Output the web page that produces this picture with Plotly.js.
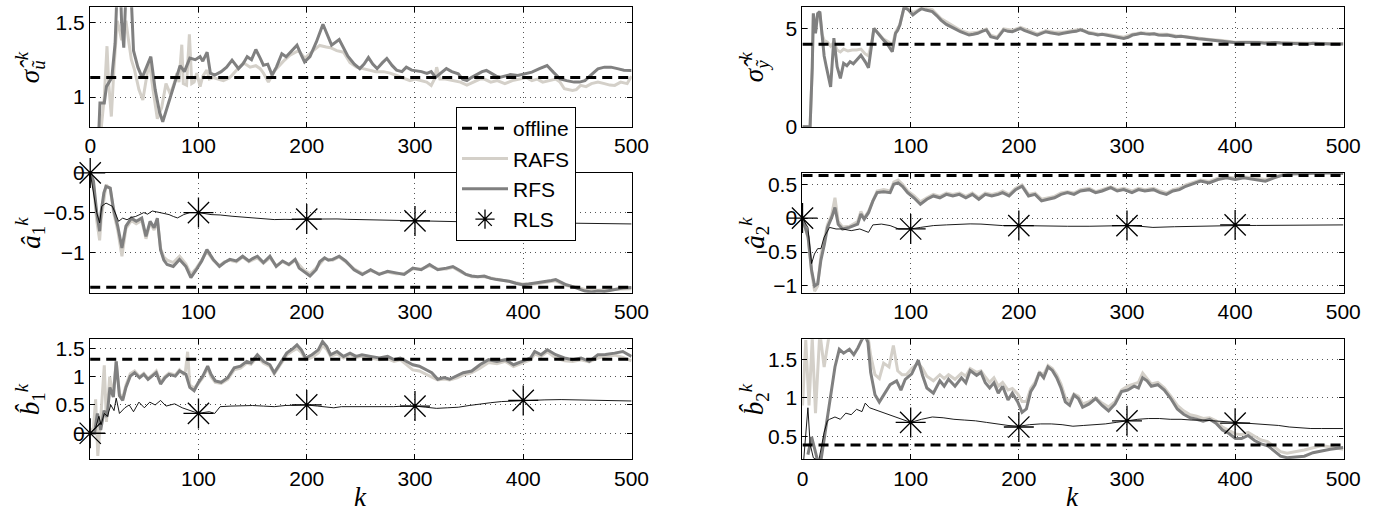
<!DOCTYPE html>
<html><head><meta charset="utf-8">
<script src="https://cdn.plot.ly/plotly-3.0.1.min.js"></script>
<style>html,body{margin:0;padding:0;background:#fff}#chart{width:1378px;height:513px}</style>
</head><body><div id="chart"></div>
<script>
// ---------- data ----------
const kSpan = [0, 500];
const markK = [0, 100, 200, 300, 400];
const xTicksAll = [0, 100, 200, 300, 400, 500];
const xTicksNoZero = [100, 200, 300, 400, 500];

// sigma_u
const suOffline = 1.131;
const suRafsK = [3,8,10,13,15.5,17,19.5,22,25,27,29,31,33,35,38,41,45,48.6,51,54.5,58,62,66,70,74,78,80,82,84.6,86,89,91.6,93.8,96,98.4,101.5,104,107.7,110,113.8,118,123,129,135,141.5,147.7,153,157,160,164.6,170.8,178.5,184.6,192.3,198.4,206,212,218,222,227.7,234,240,246,252,258.5,264,271,277,283,289,295.4,300,305,310.8,315,318,320,323,328,335,342,348,354,360,364,370,376,383,390,396,403,408,413,418,424,430,434,438,445.5,449,453,458,463,469,475,480,484.5,490,496,500];
const suRafs  = [0.5,0.7,0.78,1.0,1.34,1.1,0.87,1.2,1.51,1.45,1.38,1.45,1.51,1.4,1.25,1.18,1.05,0.98,1.1,1.24,1.05,0.855,0.93,1.09,1.02,1.1,1.16,1.1,1.35,1.09,1.08,1.42,1.09,1.1,1.16,1.07,1.14,1.18,1.12,1.13,1.12,1.11,1.13,1.18,1.23,1.2,1.21,1.19,1.16,1.1,1.18,1.24,1.28,1.31,1.26,1.31,1.345,1.335,1.33,1.31,1.3,1.23,1.2,1.19,1.18,1.17,1.17,1.16,1.144,1.13,1.11,1.12,1.11,1.1,1.078,1.12,1.2,1.12,1.12,1.11,1.1,1.08,1.1,1.12,1.12,1.1,1.11,1.09,1.11,1.12,1.13,1.11,1.12,1.1,1.11,1.12,1.1,1.056,1.044,1.05,1.078,1.07,1.09,1.1,1.09,1.08,1.078,1.1,1.09,1.14];
const suRfsK = [1,5,8,9,13,15,20,23,25,27,29,31,33,36,38,40,44,48,52,56,60,64,67,71,75,80,83,87,92,97,101.5,104,108,111,115,121,126,131,137,141,145,149,153,157,160,164,168,172,177,181,186,191,195,198,203,209,215,219,223,230,234,238,244,249,253,257,261,265,270,274,279,283,288,292,297,302,306,311,315,319,324,329,334,340,344,348,352,357,362,366,371,375,379,383,388,395,402,408,415,422,428,434,440,447,452,457,463,469,475,481,487,493,500];
const suRfs  = [0.5,0.7,0.78,0.96,0.96,1.07,1.13,1.36,1.75,1.9,1.5,1.33,1.7,1.85,1.65,1.31,1.2,1.13,1.2,1.27,1.05,0.9,0.835,0.93,1.025,1.13,1.21,1.17,1.26,1.25,1.27,1.24,1.30,1.16,1.147,1.17,1.2,1.247,1.19,1.22,1.27,1.25,1.318,1.26,1.213,1.22,1.147,1.2,1.29,1.27,1.31,1.347,1.28,1.235,1.27,1.37,1.487,1.42,1.347,1.385,1.33,1.273,1.22,1.19,1.22,1.264,1.22,1.19,1.23,1.258,1.21,1.18,1.17,1.2,1.18,1.176,1.17,1.158,1.17,1.131,1.16,1.19,1.17,1.155,1.12,1.11,1.13,1.15,1.17,1.178,1.155,1.14,1.133,1.14,1.15,1.144,1.155,1.167,1.19,1.211,1.165,1.122,1.11,1.1,1.1,1.11,1.15,1.189,1.2,1.2,1.19,1.18,1.178];

// sigma_y
const syOffline = 4.19;
const syRafsK = [0,7,9,10,12,14,16,18,20,23,26,29,32,35,38,42,46,50,54,58,61,64,66,70,75,80,83,86,90,94,98,102,106,110,114,120,128,138,146,154,162,170,174,180,186,194,201.5,209,217,225,233,241,249,257,265,273,281,289,297,305,313,321,329,337,345,355,366,377,388,400,410,422,432,442,456,467,478,488,500];
const syRafs  = [0,0,3,5.7,4.8,5.7,5.8,4.7,4.4,4.3,4.1,4.3,3.9,3.8,3.95,3.85,3.9,3.9,3.95,3.7,3.6,4.3,5.0,4.75,4.45,4.3,4.1,4.8,5.2,6.05,6.0,5.8,5.9,6.05,6.0,5.95,5.5,5.15,4.9,4.75,4.8,4.97,4.65,4.55,4.97,4.9,5.05,4.9,4.72,4.88,4.8,4.8,4.88,4.95,4.8,4.72,4.7,4.63,4.55,4.7,4.78,4.74,4.7,4.7,4.62,4.58,4.5,4.44,4.38,4.3,4.31,4.3,4.29,4.28,4.26,4.23,4.24,4.22,4.22];
const syRfsK = [0,7,9,10,12,14,16,18,20,22,24,26,29,32,35,38,41,44,47,50,54,58,61,64,66,69,72,75,78,81,83,86,88,90,92,94,98,102,106,110,114,120,124,128,133,138,142,146,150,154,158,162,166,170,174,180,186,190,194,198,201.5,205,209,213,217,221,225,229,233,237,241,245,249,253,257,261,265,269,273,277,281,285,289,293,297,301,305,309,313,317,321,325,329,333,337,341,345,350,355,361,366,371,377,383,388,392.5,396,400.5,405,410,416,422,427,432,437,442,448,456,462,467,472,478,484,488,494,500];
const syRfs  = [0,0,3,5.76,4.75,5.76,5.85,4.58,3.6,3.05,2.6,2.03,4.5,3.05,2.46,3.22,3.1,3.3,3.2,3.39,3.64,3.3,3.0,4.2,5.0,4.8,4.58,4.4,4.24,4.0,3.81,4.75,4.9,5.17,5.6,6.1,5.93,5.68,5.85,6.0,5.93,5.85,5.65,5.42,5.2,5.08,4.95,4.83,4.75,4.66,4.7,4.75,4.85,4.92,4.58,4.49,4.92,4.85,4.83,4.9,5.0,4.9,4.83,4.75,4.66,4.75,4.83,4.78,4.75,4.7,4.75,4.8,4.83,4.85,4.92,4.85,4.75,4.72,4.66,4.7,4.66,4.62,4.58,4.55,4.49,4.55,4.66,4.7,4.75,4.72,4.7,4.72,4.66,4.65,4.66,4.62,4.58,4.6,4.55,4.49,4.47,4.45,4.41,4.4,4.35,4.32,4.3,4.27,4.28,4.29,4.27,4.28,4.25,4.27,4.28,4.26,4.25,4.24,4.22,4.21,4.24,4.22,4.2,4.2,4.21,4.2];

// a1
const a1Offline = -1.44;
const a1RafsK = [0,3,6,8.7,10,12.6,14.6,18.5,21.6,25.4,29.3,33,38,42.5,47.6,51.5,55.3,59,62,65,68,71,76.7,82.5,88.4,93,98,103,107.8,113.6,119.4,124,129,135,140.8,146.6,154.4,160,166,171.8,177.7,183.5,189.3,197,203,208.7,216.5,224,230,236,243.7,251.4,259,267,274.7,282.5,290,298,305.8,313.5,321,329,335,342.7,352.4,364,375.7,387,399,410.6,422,430,439.8,449.5,457,469,480.6,492,500];
const a1Rafs  = [0,-0.15,-0.6,-0.85,-0.6,-0.3,-0.15,-0.2,-0.5,-0.72,-1.05,-0.7,-0.6,-0.64,-0.6,-0.83,-0.63,-0.72,-0.6,-0.95,-1.06,-1.1,-1.13,-1.05,-1.15,-1.28,-1.2,-1.1,-0.99,-1.1,-1.17,-1.12,-1.1,-1.12,-1.06,-1.12,-1.07,-1.14,-1.07,-1.17,-1.12,-1.16,-1.1,-1.22,-1.27,-1.2,-1.08,-1.1,-1.06,-1.12,-1.21,-1.27,-1.23,-1.27,-1.25,-1.27,-1.27,-1.21,-1.21,-1.17,-1.21,-1.21,-1.19,-1.25,-1.31,-1.31,-1.34,-1.37,-1.4,-1.4,-1.38,-1.36,-1.42,-1.44,-1.47,-1.48,-1.47,-1.46,-1.46];
const a1RfsK = [0,3,6,8.7,10,12.6,14.6,18.5,21.6,25.4,29.3,33,38,42.5,47.6,51.5,55.3,59,62,65,68,71,76.7,82.5,88.4,93,98,103,107.8,113.6,119.4,124,129,135,140.8,146.6,150,154.4,160,166,171.8,177.7,183.5,189.3,193,197,203,208.7,212,216.5,220,224,230,236,243.7,251.4,259,267,274.7,282.5,290,298,305.8,313.5,321,329,335,342.7,347,352.4,358,364,370,375.7,381,387,393,399,405,410.6,416,422,426,430,435,439.8,445,449.5,453,457,463,469,475,480.6,486,492,500];
const a1Rfs  = [0,-0.1,-0.5,-0.735,-0.5,-0.25,-0.17,-0.19,-0.46,-0.67,-0.945,-0.67,-0.57,-0.61,-0.57,-0.8,-0.61,-0.69,-0.57,-0.97,-1.1,-1.155,-1.18,-1.09,-1.18,-1.32,-1.22,-1.11,-0.966,-1.09,-1.18,-1.13,-1.09,-1.11,-1.05,-1.11,-1.08,-1.05,-1.13,-1.05,-1.18,-1.11,-1.155,-1.09,-1.2,-1.24,-1.30,-1.22,-1.12,-1.07,-1.1,-1.09,-1.05,-1.11,-1.22,-1.28,-1.22,-1.28,-1.24,-1.26,-1.28,-1.2,-1.22,-1.155,-1.22,-1.2,-1.18,-1.24,-1.28,-1.30,-1.31,-1.30,-1.33,-1.345,-1.35,-1.365,-1.39,-1.41,-1.40,-1.39,-1.38,-1.365,-1.355,-1.345,-1.38,-1.41,-1.43,-1.45,-1.47,-1.49,-1.5,-1.49,-1.495,-1.48,-1.47,-1.45,-1.445];
const a1RlsK = [0,3,6,8.7,10.6,14.6,17,20.4,23,26.2,30,34,38,41.7,45,49.5,53,57.3,61,65,69,72.8,77,80.6,83,86.4,92,100,111.6,120,131,140,150.5,160,170,180,189,200,208.7,220,228,238,247.6,257,267,276,286,296,305.8,315,325,340,360,380,400,420,440,460,480,500];
const a1Rls  = [0,-0.25,-0.5,-0.63,-0.42,-0.38,-0.4,-0.42,-0.5,-0.61,-0.57,-0.59,-0.56,-0.55,-0.53,-0.5,-0.52,-0.48,-0.49,-0.5,-0.51,-0.525,-0.55,-0.567,-0.55,-0.525,-0.5,-0.5,-0.525,-0.53,-0.546,-0.555,-0.567,-0.575,-0.588,-0.585,-0.588,-0.582,-0.58,-0.58,-0.58,-0.585,-0.588,-0.592,-0.597,-0.6,-0.605,-0.605,-0.605,-0.607,-0.61,-0.615,-0.62,-0.622,-0.625,-0.63,-0.632,-0.636,-0.64,-0.643];
const a1Mark = [0,-0.5,-0.582,-0.605,-0.625];

// a2
const a2Offline = 0.63;
const a2K = [0,5.2,8.4,11.2,14,17,20.3,23,27,30,33,37,43.4,47.4,51,54,57,61,65,69,75,81,84.4,88.4,92.4,97.2,103,109,115,121,127,133,139,145,151,157,163,169,175,181,185,191,197,203,209,215,221,227,233,239,245,251,257,265,271,277,285,291,297,304.6,310.6,316.5,324.5,330.5,336.5,342.5,348.5,354.4,360.4,368,376,384,392,400,408,420,428,436,444,452,464,476,488,500];
const a2Rafs = [0,-0.3,-0.8,-1.08,-1.0,-0.55,-0.3,-0.1,0.05,0.3,-0.05,-0.13,-0.12,-0.08,-0.05,0.1,0.0,0.1,0.26,0.4,0.42,0.4,0.53,0.56,0.5,0.4,0.33,0.24,0.3,0.35,0.32,0.37,0.35,0.37,0.32,0.37,0.3,0.37,0.35,0.37,0.4,0.35,0.44,0.49,0.35,0.37,0.28,0.3,0.32,0.37,0.39,0.37,0.42,0.44,0.39,0.42,0.46,0.42,0.44,0.4,0.44,0.42,0.44,0.4,0.37,0.42,0.44,0.49,0.52,0.56,0.54,0.59,0.61,0.59,0.61,0.59,0.57,0.61,0.645,0.66,0.67,0.68,0.68,0.67];
const a2Rfs  = [0,-0.28,-0.77,-1.0,-0.97,-0.62,-0.38,-0.14,0.01,0.156,-0.09,-0.16,-0.137,-0.11,-0.09,0.06,-0.015,0.08,0.25,0.376,0.39,0.376,0.5,0.52,0.47,0.376,0.30,0.205,0.278,0.327,0.30,0.35,0.327,0.35,0.30,0.35,0.278,0.35,0.327,0.35,0.376,0.327,0.42,0.47,0.327,0.35,0.254,0.278,0.30,0.35,0.376,0.35,0.4,0.42,0.376,0.4,0.45,0.4,0.42,0.376,0.42,0.4,0.42,0.376,0.35,0.4,0.42,0.47,0.5,0.546,0.52,0.57,0.595,0.57,0.595,0.57,0.546,0.595,0.634,0.65,0.66,0.67,0.67,0.66];
const a2RlsK = [0,5,8.4,11,14,17,20,25,31,37,45,53,61,65,73,81,89,100,109,121,133,145,155,165,175,185,200,212,225,245,265,285,300,312,324,344,360,380,400,420,440,460,480,500];
const a2Rls  = [0,-0.14,-0.67,-0.53,-0.45,-0.45,-0.28,-0.137,-0.16,-0.16,-0.185,-0.16,-0.21,-0.1,-0.088,-0.11,-0.16,-0.16,-0.137,-0.11,-0.1,-0.088,-0.085,-0.088,-0.1,-0.11,-0.11,-0.115,-0.12,-0.12,-0.12,-0.115,-0.11,-0.12,-0.137,-0.127,-0.12,-0.115,-0.11,-0.108,-0.106,-0.105,-0.102,-0.1];
const a2Mark = [0,-0.16,-0.11,-0.11,-0.1];

// b1
const b1Offline = 1.306;
const b1RafsK = [0,3,5,7,10,13,15,18,21,24,27,30,33,37,41,45.6,49.5,53.4,57.3,61,65,69,72.8,78.6,82.5,86,88,90,92,96,100,104,108.5,111.6,115.5,121,127,133,138.8,144.6,148.5,154.4,160,166,170,175.7,181.5,187.4,191,195,199,204.8,210.7,214.6,218.5,222,228,234,240,245.6,251,259,267,274.7,280.6,286.4,292,298,304,309.7,315.5,321,327,332,338.8,344.6,352.4,360,368,375.7,383.5,391,399,406.8,410.6,416.5,422.3,430,438,445.6,453.4,461,469,476,484.4,492,500];
const b1Rafs  = [0,0.1,0.6,-0.4,0.35,1.2,0.2,1.0,0.65,1.27,0.7,0.62,0.85,1.05,1.1,1.0,1.06,0.97,1.03,1.1,0.9,1.0,1.06,1.03,1.12,1.05,1.1,1.44,0.85,0.8,0.88,0.98,1.15,1.0,0.9,0.88,0.95,1.12,1.15,1.24,1.22,1.35,1.24,1.18,1.05,1.22,1.38,1.46,1.5,1.43,1.3,1.34,1.42,1.55,1.48,1.36,1.4,1.33,1.39,1.34,1.36,1.33,1.3,1.32,1.27,1.3,1.22,1.12,1.1,1.05,1.0,0.94,0.96,0.94,0.98,1.03,1.07,1.15,1.25,1.23,1.27,1.18,1.24,1.3,1.4,1.36,1.44,1.33,1.28,1.27,1.3,1.26,1.33,1.36,1.38,1.34,1.28];
const b1RfsK = [0,4,6.6,9.7,12.8,15.5,18.2,21.4,24,27,30,33,37,41,45.6,49.5,53.4,57.3,61,65,69,72.8,78.6,82.5,88.4,92,96,100,104,108.5,111.6,115.5,121,127,133,138.8,144.6,148.5,154.4,160,166,170,175.7,181.5,187.4,191,195,199,204.8,210.7,214.6,218.5,222,228,234,240,245.6,251,259,267,274.7,280.6,286.4,292,298,304,309.7,315.5,321,327,332,338.8,344.6,352.4,360,368,375.7,383.5,391,399,406.8,410.6,416.5,422.3,430,438,445.6,453.4,461,469,476,484.4,492,500];
const b1Rfs  = [0,0,0.35,0.06,0.4,0.29,0.81,0.64,1.27,0.665,0.58,0.81,1.01,1.07,0.98,1.04,0.95,1.01,1.07,0.87,0.98,1.04,1.01,1.1,1.04,0.81,0.75,0.9,1.01,1.185,1.04,0.925,0.9,0.98,1.156,1.185,1.27,1.243,1.387,1.27,1.21,1.07,1.243,1.416,1.5,1.56,1.474,1.33,1.387,1.474,1.62,1.53,1.387,1.445,1.358,1.416,1.358,1.387,1.358,1.33,1.358,1.3,1.33,1.27,1.21,1.185,1.127,1.07,0.954,0.983,0.954,1.01,1.07,1.1,1.21,1.3,1.27,1.3,1.21,1.27,1.33,1.445,1.387,1.474,1.387,1.33,1.3,1.33,1.27,1.387,1.39,1.416,1.445,1.358];
const b1RlsK = [0,3,5,8,10,13,16,19,22,24,27,32,36,40,45,50,55,60,65,70,78,85,92,100,106,110,115,120,130,140,150,160,170,180,190,200,210,218,225,232,240,250,260,270,280,290,300,310,320,330,340,350,360,370,380,390,400,410,420,435,450,465,480,500];
const b1Rls  = [0,0.05,0.1,0.3,0.15,0.35,0.3,0.5,0.4,0.62,0.35,0.45,0.5,0.38,0.55,0.45,0.55,0.5,0.58,0.48,0.52,0.45,0.4,0.35,0.37,0.38,0.35,0.47,0.48,0.49,0.49,0.48,0.47,0.49,0.5,0.5,0.48,0.46,0.45,0.47,0.47,0.47,0.47,0.46,0.47,0.48,0.48,0.46,0.44,0.45,0.46,0.49,0.52,0.54,0.56,0.57,0.58,0.59,0.59,0.595,0.59,0.58,0.57,0.57];
const b1Mark = [0,0.35,0.5,0.48,0.58];

// b2
const b2Offline = 0.385;
const b2RafsK = [0,3,6,9,12,16,20,25,30,40,50,55,60,63,67,71,75,80,84,88,92,96,101,107,111,115,121,127,131,135,141,147,151,155,161,165,169,173,177,181,185,190,194,199,203,207,211,215,219,223,227,231,235,239,243,247,251,255,259,265,271,277,283,289,295,300.6,306.6,310.6,314.5,318.5,322.5,328.5,334.5,340.5,346.5,352.4,358.4,364.4,370.4,376.4,382.3,388.3,394.3,400.3,406,412,418,424,430,436,442,448,456,464,472,480,488,500];
const b2Rafs  = [0.9,1.75,0.9,1.78,0.8,1.85,1.4,1.85,1.9,1.9,1.85,1.9,1.85,1.55,1.3,1.25,1.45,1.4,1.68,1.35,1.3,1.3,1.38,1.45,1.38,1.28,1.22,1.3,1.25,1.3,1.24,1.32,1.28,1.38,1.33,1.35,1.27,1.2,1.26,1.15,1.2,1.1,1.12,1.05,0.95,0.95,1.12,1.2,1.33,1.3,1.42,1.38,1.3,1.18,1.0,0.95,1.05,1.02,0.92,0.95,1.0,0.93,0.88,0.95,1.1,1.15,1.18,1.2,1.32,1.25,1.18,1.2,1.13,1.02,0.9,0.83,0.78,0.76,0.73,0.74,0.7,0.62,0.58,0.53,0.52,0.55,0.5,0.45,0.43,0.37,0.3,0.28,0.3,0.32,0.35,0.38,0.36,0.33];
const b2RfsK = [5,8.4,11,14,17,21,25,30,34,38,43.4,47.4,51.3,55,58,60.5,63,67,71,75,81,87,91,95,101,107,111,115,121,127,131,135,141,147,151,155,161,165,169,173,177,181,185,190,194,199,203,207,211,215,219,223,227,231,235,239,243,247,251,255,259,265,271,277,283,289,295,300.6,306.6,310.6,314.5,318.5,322.5,328.5,334.5,340.5,346.5,352.4,358.4,364.4,370.4,376.4,382.3,388.3,394.3,400.3,406,412,418,424,430,436,442,448,456,464,472,480,488,500];
const b2Rfs  = [0.26,0.49,0.35,0.18,0.18,0.54,0.945,1.4,1.63,1.58,1.63,1.56,1.65,1.76,1.8,1.72,1.33,1.04,0.945,1.04,1.17,1.22,1.1,1.24,1.31,1.49,1.29,1.127,1.06,1.22,1.15,1.24,1.15,1.26,1.195,1.355,1.29,1.33,1.195,1.127,1.195,1.06,1.15,0.97,1.06,0.945,0.81,0.855,1.08,1.17,1.33,1.26,1.4,1.355,1.26,1.127,0.945,0.9,1.036,0.99,0.877,0.92,0.99,0.9,0.83,0.92,1.08,1.1,1.15,1.127,1.26,1.22,1.15,1.17,1.1,0.99,0.855,0.786,0.74,0.72,0.695,0.72,0.67,0.58,0.536,0.47,0.47,0.51,0.445,0.4,0.377,0.31,0.24,0.22,0.227,0.24,0.286,0.31,0.33,0.354];
const b2RlsK = [0,3,5,7,10,15,20,23,25,30,35,40,45,50,55,58,62,66,70,75,80,85,90,95,100,110,120,130,140,150,160,170,180,190,200,210,220,230,240,250,260,270,280,290,300,310,320,330,340,350,360,370,380,390,400,410,420,430,440,450,460,470,480,490,500];
const b2Rls  = [0,0.5,0.87,0.4,0.22,0.18,0.55,0.7,0.72,0.75,0.72,0.8,0.78,0.85,0.82,0.93,0.87,0.85,0.83,0.8,0.78,0.75,0.72,0.7,0.68,0.72,0.75,0.74,0.72,0.71,0.7,0.68,0.66,0.64,0.63,0.65,0.66,0.66,0.65,0.63,0.64,0.65,0.66,0.68,0.7,0.72,0.73,0.73,0.72,0.72,0.71,0.71,0.7,0.69,0.68,0.67,0.66,0.65,0.64,0.62,0.61,0.6,0.6,0.6,0.6];
const b2Mark = [0,0.68,0.62,0.7,0.67];

// ---------- styles ----------
const C_RAFS = '#d4d0c9', C_RFS = '#808080';
const tickFont = {family: 'Liberation Sans, Arial, sans-serif', size: 21, color: '#000'};
const mathFont = {family: 'Liberation Serif, DejaVu Serif, serif', size: 27, color: '#000'};

const traces = [];
function panel(n, p, leg) {
  const xa = 'x' + (n === 1 ? '' : n), ya = 'y' + (n === 1 ? '' : n);
  traces.push({x: p.rafsK, y: p.rafs, xaxis: xa, yaxis: ya, mode: 'lines', name: 'RAFS',
    line: {color: C_RAFS, width: 3}, showlegend: !!leg.main, legendrank: 2, hoverinfo: 'skip'});
  traces.push({x: p.rfsK, y: p.rfs, xaxis: xa, yaxis: ya, mode: 'lines', name: 'RFS',
    line: {color: C_RFS, width: 3}, showlegend: !!leg.main, legendrank: 3, hoverinfo: 'skip'});
  traces.push({x: kSpan, y: [p.off, p.off], xaxis: xa, yaxis: ya, mode: 'lines', name: 'offline',
    line: {color: '#000', width: 3, dash: '10px,6px'}, showlegend: !!leg.main, legendrank: 1, hoverinfo: 'skip'});
  if (p.rlsK) {
    traces.push({x: p.rlsK, y: p.rls, xaxis: xa, yaxis: ya, mode: 'lines', name: 'RLS',
      line: {color: '#000', width: 0.9}, showlegend: false, hoverinfo: 'skip'});
    traces.push({x: markK, y: p.mark, xaxis: xa, yaxis: ya, mode: 'markers', name: 'RLS',
      marker: {symbol: 'asterisk-open', size: 25, color: '#000', line: {color: '#000', width: 1.3}},
      cliponaxis: false, showlegend: !!leg.rls, legendrank: 4, hoverinfo: 'skip'});
  }
}
panel(1, {rafsK: suRafsK, rafs: suRafs, rfsK: suRfsK, rfs: suRfs, off: suOffline}, {main: true});
panel(2, {rafsK: syRafsK, rafs: syRafs, rfsK: syRfsK, rfs: syRfs, off: syOffline}, {});
panel(3, {rafsK: a1RafsK, rafs: a1Rafs, rfsK: a1RfsK, rfs: a1Rfs, off: a1Offline, rlsK: a1RlsK, rls: a1Rls, mark: a1Mark}, {rls: true});
panel(4, {rafsK: a2K, rafs: a2Rafs, rfsK: a2K, rfs: a2Rfs, off: a2Offline, rlsK: a2RlsK, rls: a2Rls, mark: a2Mark}, {});
panel(5, {rafsK: b1RafsK, rafs: b1Rafs, rfsK: b1RfsK, rfs: b1Rfs, off: b1Offline, rlsK: b1RlsK, rls: b1Rls, mark: b1Mark}, {});
panel(6, {rafsK: b2RafsK, rafs: b2Rafs, rfsK: b2RfsK, rfs: b2Rfs, off: b2Offline, rlsK: b2RlsK, rls: b2Rls, mark: b2Mark}, {});

// ---------- layout ----------
const W = 1378, H = 513;
const colX = [[90 / W, 631.7 / W], [802.3 / W, 1343.5 / W]];
const rowY = [[1 - 127 / H, 1 - 7.3 / H], [1 - 292.7 / H, 1 - 172.7 / H], [1 - 459.3 / H, 1 - 339.3 / H]];
function xax(col, anchor, ticks) {
  return {domain: colX[col], anchor: anchor, range: [-0.2, 500.2], tickmode: 'array', tickvals: ticks,
    ticks: 'inside', ticklen: 5, tickcolor: '#000', showline: true, linecolor: '#000', linewidth: 1, mirror: 'ticks',
    showgrid: true, gridcolor: '#555', griddash: '1px,4px', gridwidth: 1, zeroline: false, tickfont: tickFont, fixedrange: true};
}
function yax(row, anchor, range, ticks) {
  return {domain: rowY[row], anchor: anchor, range: range, tickmode: 'array', tickvals: ticks,
    ticks: 'inside', ticklen: 5, tickcolor: '#000', showline: true, linecolor: '#000', linewidth: 1, mirror: 'ticks',
    showgrid: true, gridcolor: '#555', griddash: '1px,4px', gridwidth: 1, zeroline: false, tickfont: tickFont, fixedrange: true};
}
const yLabX = [30 / W, 754 / W];
const rowC = rowY.map(r => (r[0] + r[1]) / 2);
function ylab(text, col, row) {
  return {text: text, xref: 'paper', yref: 'paper', x: yLabX[col], y: rowC[row], showarrow: false,
    textangle: -90, font: mathFont, xanchor: 'center', yanchor: 'middle'};
}
const layout = {
  width: W, height: H, margin: {l: 0, r: 0, t: 0, b: 0},
  paper_bgcolor: '#fff', plot_bgcolor: '#fff', showlegend: true,
  xaxis: xax(0, 'y', xTicksAll), yaxis: yax(0, 'x', [0.8, 1.6], [1, 1.5]),
  xaxis2: xax(1, 'y2', xTicksNoZero), yaxis2: yax(0, 'x2', [-0.01, 6.07], [0, 5]),
  xaxis3: xax(0, 'y3', xTicksNoZero), yaxis3: yax(1, 'x3', [-1.51, 0.003], [-1, -0.5, 0]),
  xaxis4: xax(1, 'y4', xTicksNoZero), yaxis4: yax(1, 'x4', [-1.1, 0.67], [-1, -0.5, 0, 0.5]),
  xaxis5: xax(0, 'y5', xTicksNoZero), yaxis5: yax(2, 'x5', [-0.46, 1.66], [0, 0.5, 1, 1.5]),
  xaxis6: xax(1, 'y6', xTicksAll), yaxis6: yax(2, 'x6', [0.2, 1.76], [0.5, 1, 1.5]),
  legend: {x: 456 / W, y: 1 - 107 / H, xanchor: 'left', yanchor: 'top', bgcolor: '#fff', bordercolor: '#000', borderwidth: 1,
    font: {family: 'Liberation Sans, Arial, sans-serif', size: 21, color: '#000'}, traceorder: 'normal', itemwidth: 46},
  annotations: [
    ylab('<i>σ̂</i><sub><i>ũ</i></sub><sup><i>k</i></sup>', 0, 0),
    ylab('<i>σ̂</i><sub><i>ỹ</i></sub><sup><i>k</i></sup>', 1, 0),
    ylab('<i>â</i><sub>1</sub><sup><i>k</i></sup>', 0, 1),
    ylab('<i>â</i><sub>2</sub><sup><i>k</i></sup>', 1, 1),
    ylab('<i>b̂</i><sub>1</sub><sup><i>k</i></sup>', 0, 2),
    ylab('<i>b̂</i><sub>2</sub><sup><i>k</i></sup>', 1, 2),
    {text: '<i>k</i>', xref: 'paper', yref: 'paper', x: (colX[0][0] + colX[0][1]) / 2, y: 1 - 497 / H, showarrow: false, font: mathFont, xanchor: 'center', yanchor: 'middle'},
    {text: '<i>k</i>', xref: 'paper', yref: 'paper', x: (colX[1][0] + colX[1][1]) / 2, y: 1 - 497 / H, showarrow: false, font: mathFont, xanchor: 'center', yanchor: 'middle'}
  ]
};
Plotly.newPlot('chart', traces, layout, {displayModeBar: false, staticPlot: true});
</script>
</body></html>
